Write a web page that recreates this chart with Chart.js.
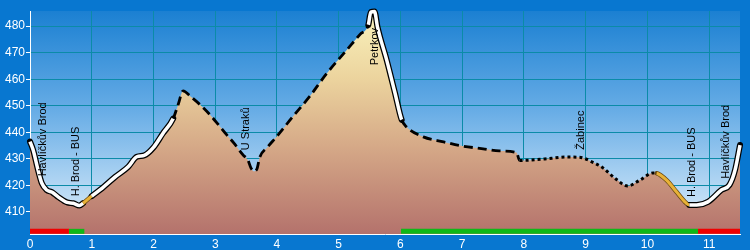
<!DOCTYPE html>
<html>
<head>
<meta charset="utf-8">
<script src="https://cdn.jsdelivr.net/npm/chart.js@4.4.1/dist/chart.umd.min.js"></script>
<style>
    html, body { margin: 0; padding: 0; background: #0877d0; }
    #wrap { width: 750px; height: 250px; }
</style>
</head>
<body>
<div id="wrap"><canvas id="profile" width="750" height="250"></canvas></div>
<script>
// ===== ROUTE DATA =====
const kms = [
    0.00, 0.05, 0.13, 0.19, 0.27, 0.36, 0.46, 0.60, 0.70, 0.80,
    0.86, 1.00, 1.17, 1.38, 1.59, 1.73, 1.85, 2.00, 2.15, 2.32,
    2.40, 2.48, 2.60, 2.75, 2.90, 3.03, 3.17, 3.30, 3.45, 3.53,
    3.58, 3.63, 3.68, 3.72, 3.85, 4.00, 4.26, 4.53, 4.80, 5.13,
    5.35, 5.48, 5.52, 5.58, 5.63, 5.78, 5.91, 6.02, 6.10, 6.37,
    6.70, 6.96, 7.34, 7.60, 7.88, 7.93, 8.31, 8.69, 8.90, 9.10,
    9.28, 9.50, 9.68, 9.88, 10.09, 10.15, 10.31, 10.47, 10.60, 10.68,
    10.80, 10.98, 11.20, 11.33, 11.42, 11.50
];
const elevs = [
    436.5, 433.4, 425.8, 420.9, 418.3, 417.4, 415.6, 413.6, 413.3, 412.4,
    413.3, 416.0, 419.0, 423.2, 427.0, 430.8, 431.3, 434.3, 439.5, 445.2,
    450.5, 455.6, 453.5, 450.5, 447.0, 443.5, 439.5, 436.0, 431.5, 429.5,
    426.5, 425.3, 426.5, 430.5, 434.5, 438.5, 446.0, 453.5, 462.0, 471.0,
    477.0, 480.5, 485.3, 485.5, 479.5, 467.0, 455.0, 444.7, 442.0, 438.3,
    436.4, 435.0, 433.8, 433.0, 432.4, 429.4, 429.9, 430.7, 430.6, 428.9,
    426.6, 422.2, 419.8, 422.0, 424.7, 424.6, 422.0, 417.6, 414.0, 412.6,
    412.6, 413.8, 418.3, 420.2, 425.8, 435.2
];

// surface sections along the route
const sectionStart = [0, 0.86, 1.00, 2.32, 5.48, 6.02, 7.93, 10.15, 10.68];
const sectionKind = ['road', 'cycleway', 'road', 'track', 'road', 'track', 'path', 'cycleway', 'road'];

// strip along the bottom
const stripFrom = [0, 0.63, 6.01, 10.82];
const stripTo = [0.63, 0.88, 10.82, 11.50];
const stripKind = ['traffic', 'marked', 'marked', 'traffic'];

// place names
const placeNames = ['Havlíčkův Brod', 'H. Brod - BUS', 'U Straků', 'Petrkov', 'Žabinec', 'H. Brod - BUS', 'Havlíčkův Brod'];
const placeKm = [0.205, 0.745, 3.5, 5.59, 8.92, 10.73, 11.28];

const kmTicks = [0, 1, 2, 3, 4, 5, 6, 7, 8, 9, 10, 11];
const elevTicks = [410, 420, 430, 440, 450, 460, 470, 480];

// ===== STYLES =====
const FONT = '"Liberation Sans", Arial, sans-serif';
const GRID = '#0b8ba8';
const STRIP_Y = 402.7;

const lineStyle = {
    road: { color: '#ffffff', width: 3.5, dash: [], outline: '#000000', outlineWidth: 6 },
    cycleway: { color: '#e8b238', width: 3, dash: [], outline: '#6b4a12', outlineWidth: 4.5 },
    track: { color: '#000000', width: 2.8, dash: [9, 5], outline: 'rgba(0,0,0,0)', outlineWidth: 0 },
    path: { color: '#000000', width: 3, dash: [3, 3], outline: 'rgba(0,0,0,0)', outlineWidth: 0 }
};
const stripColor = { traffic: '#f00000', marked: '#10b818' };

function kindAt(km) {
    let k = sectionKind[0];
    for (let i = 0; i < sectionStart.length; i++) {
        if (km >= sectionStart[i]) k = sectionKind[i];
    }
    return k;
}

function segKind(ctx) {
    return kindAt((ctx.p0.parsed.x + ctx.p1.parsed.x) / 2);
}

function elevAt(km) {
    for (let i = 1; i < kms.length; i++) {
        if (km <= kms[i]) {
            const t = (km - kms[i - 1]) / (kms[i] - kms[i - 1]);
            return elevs[i - 1] + t * (elevs[i] - elevs[i - 1]);
        }
    }
    return elevs[elevs.length - 1];
}

const points = kms.map((k, i) => ({ x: k, y: elevs[i] }));

// ===== PLUGINS =====
const backdrop = {
    id: 'backdrop',
    beforeDraw(chart) {
        const { ctx, chartArea: a } = chart;
        ctx.save();
        ctx.fillStyle = '#0877d0';
        ctx.fillRect(0, 0, chart.width, chart.height);
        const g = ctx.createLinearGradient(0, a.top, 0, a.bottom);
        g.addColorStop(0, '#1b80d2');
        g.addColorStop(0.45, '#68ade6');
        g.addColorStop(1, '#e4f2fc');
        ctx.fillStyle = g;
        ctx.fillRect(a.left, a.top, a.right - a.left, a.bottom - a.top);
        ctx.restore();
    }
};

const placeLabels = {
    id: 'placeLabels',
    afterDatasetsDraw(chart) {
        const { ctx, chartArea, scales: { x, y } } = chart;
        ctx.save();
        ctx.font = '11px ' + FONT;
        ctx.fillStyle = '#000';
        ctx.textAlign = 'left';
        ctx.textBaseline = 'middle';
        placeNames.forEach((name, i) => {
            const px = x.getPixelForValue(placeKm[i]);
            const w = ctx.measureText(name).width;
            let bottom = y.getPixelForValue(elevAt(placeKm[i])) - 8;
            bottom = Math.max(bottom, chartArea.top + 17 + w);
            ctx.save();
            ctx.translate(px, bottom);
            ctx.rotate(-Math.PI / 2);
            ctx.fillText(name, 0, 0);
            ctx.restore();
        });
        ctx.restore();
    }
};

// ===== CHART =====
function fillGradient(context) {
    const { ctx, chartArea } = context.chart;
    if (!chartArea) return '#d9b08a';
    const g = ctx.createLinearGradient(0, chartArea.top, 0, chartArea.bottom);
    g.addColorStop(0, '#faf3bd');
    g.addColorStop(0.3, '#ecd49e');
    g.addColorStop(0.6, '#d6aa88');
    g.addColorStop(1, '#b4726c');
    return g;
}

const stripSets = stripFrom.map((f, i) => ({
    data: [{ x: f, y: STRIP_Y }, { x: stripTo[i], y: STRIP_Y }],
    borderColor: stripColor[stripKind[i]],
    borderWidth: 5,
    borderCapStyle: 'butt',
    pointRadius: 0,
    fill: false,
    clip: false,
    order: 1
}));

new Chart(document.getElementById('profile'), {
    type: 'line',
    data: {
        datasets: [
            {
                // main profile line
                data: points,
                borderColor: '#000',
                borderWidth: 3,
                borderJoinStyle: 'round',
                cubicInterpolationMode: 'monotone',
                pointRadius: 0,
                fill: false,
                clip: false,
                order: 0,
                segment: {
                    borderColor: c => lineStyle[segKind(c)].color,
                    borderWidth: c => lineStyle[segKind(c)].width,
                    borderDash: c => lineStyle[segKind(c)].dash
                }
            },
            {
                // outline under the light segments
                data: points,
                borderColor: '#000',
                borderWidth: 6,
                borderJoinStyle: 'round',
                borderCapStyle: 'round',
                cubicInterpolationMode: 'monotone',
                pointRadius: 0,
                fill: false,
                clip: false,
                order: 2,
                segment: {
                    borderColor: c => lineStyle[segKind(c)].outline,
                    borderWidth: c => lineStyle[segKind(c)].outlineWidth
                }
            },
            {
                // area under profile
                data: points,
                borderWidth: 0,
                borderColor: 'rgba(0,0,0,0)',
                backgroundColor: fillGradient,
                cubicInterpolationMode: 'monotone',
                pointRadius: 0,
                fill: 'start',
                order: 3
            },
            ...stripSets
        ]
    },
    options: {
        responsive: false,
        animation: false,
        layout: { padding: { top: 11, right: 10, left: 0, bottom: 0 } },
        plugins: {
            legend: { display: false },
            tooltip: { enabled: false }
        },
        scales: {
            x: {
                type: 'linear',
                min: 0,
                max: 11.5,
                afterBuildTicks: s => { s.ticks = kmTicks.map(v => ({ value: v })); },
                afterFit: s => { s.height = 16; },
                grid: { color: GRID, drawTicks: false },
                border: { color: '#ffffff', width: 1 },
                ticks: {
                    color: '#ffffff',
                    font: { family: FONT, size: 12 },
                    padding: 3,
                    maxRotation: 0,
                    autoSkip: false
                }
            },
            y: {
                type: 'linear',
                min: 401.7,
                max: 485.7,
                afterBuildTicks: s => { s.ticks = elevTicks.map(v => ({ value: v })); },
                afterFit: s => { s.width = 30; },
                grid: { color: GRID, tickColor: '#ffffff', tickLength: 4 },
                border: { color: '#ffffff', width: 1 },
                ticks: {
                    color: '#ffffff',
                    font: { family: FONT, size: 12 },
                    padding: 1
                }
            }
        }
    },
    plugins: [backdrop, placeLabels]
});
</script>
</body>
</html>
